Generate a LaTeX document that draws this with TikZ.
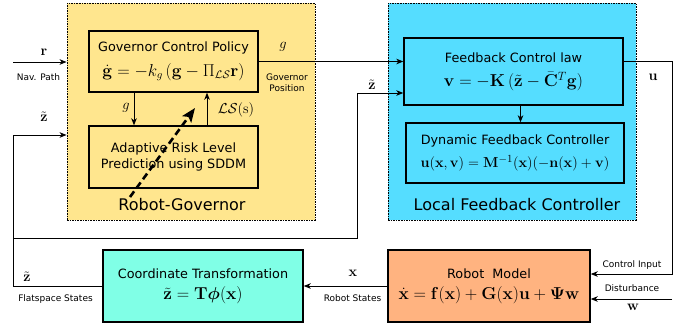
\documentclass[tikz,border=0pt]{standalone}
\usepackage{amsmath,amssymb}
\usepackage{bm}
\usepackage[no-math]{fontspec}
\setmainfont{DejaVu Sans}
\usepackage{tikz}
\usepackage{xcolor}
\usetikzlibrary{arrows.meta}

\definecolor{govyellow}{HTML}{FFE68E}
\definecolor{ctrlblue}{HTML}{55DDFF}
\definecolor{transgreen}{HTML}{80FFE6}
\definecolor{modelorange}{HTML}{FFB380}

\tikzset{
  group/.style={draw, line width=0.8pt, dash pattern=on 1.6pt off 1pt, inner sep=0pt},
  block/.style={draw, line width=1.4pt, inner sep=0pt, align=center,
    font=\fontsize{12.8}{15.4}\selectfont},
  title/.style={font=\fontsize{16}{19}\selectfont},
  note/.style={font=\fontsize{9}{11}\selectfont, align=center},
  sig/.style={font=\fontsize{15}{18}\selectfont},
  wire/.style={line width=1pt, -{Stealth[length=7pt,width=5.5pt,inset=2pt]}},
  riskarrow/.style={line width=2.6pt, dash pattern=on 7pt off 4pt,
    -{Stealth[length=14pt,width=11pt,inset=3pt]}}
}

% equation line inside a block, at its own size
\newcommand{\eqn}[2]{{\fontsize{#1}{#1}\selectfont$#2$}}

\begin{document}
\begin{tikzpicture}[x=1pt, y=-1pt]
  \useasboundingbox (0,0) rectangle (692,330);

  % the two controller layers
  \node[group, fill=govyellow, minimum width=248pt, minimum height=217pt] (gov) at (191,111.5) {};
  \node[group, fill=ctrlblue, minimum width=248pt, minimum height=217pt] (lfc) at (512,111.5) {};
  \node[title] (govtitle) at (182,205) {Robot-Governor};
  \node[title] (lfctitle) at (517,205) {Local Feedback Controller};

  % blocks
  \node[block, minimum width=169pt, minimum height=61pt] (gcp) at (173.5,61.5)
    {Governor Control Policy\\[8pt]
     \eqn{16.3}{\dot{\mathbf g} = -k_g\,(\mathbf g - \Pi_{\mathcal{LS}}\mathbf r)}};
  \node[block, minimum width=169pt, minimum height=62pt] (arl) at (173.5,157)
    {Adaptive Risk Level\\Prediction using SDDM};
  \node[block, minimum width=219pt, minimum height=67pt] (fcl) at (513.5,71.5)
    {Feedback Control law\\[9pt]
     \eqn{17.8}{\mathbf v = -\mathbf K\,(\tilde{\mathbf z} - \bar{\mathbf C}^T\mathbf g)}};
  \node[block, minimum width=218pt, minimum height=60pt] (dfc) at (515,153)
    {Dynamic Feedback Controller\\[7pt]
     \eqn{15.8}{\mathbf u(\mathbf x,\mathbf v) = \mathbf M^{-1}(\mathbf x)(-\mathbf n(\mathbf x)+\mathbf v)}};
  \node[block, fill=modelorange, minimum width=202pt, minimum height=72pt] (rm) at (489,286)
    {Robot\ \ Model\\[6pt]
     \eqn{17.4}{\dot{\mathbf x} = \mathbf f(\mathbf x) + \mathbf G(\mathbf x)\mathbf u + \mathbf\Psi\mathbf w}};
  \node[block, fill=transgreen, minimum width=200pt, minimum height=72pt] (ct) at (203,286)
    {Coordinate Transformation\\[6pt]
     \eqn{18}{\tilde{\mathbf z} = \mathbf T\bm\phi(\mathbf x)}};

  % loose ends and corners
  \coordinate (rin) at (13,62);
  \coordinate (zleft) at (13,135);
  \coordinate (zsplit) at (13,238);
  \coordinate (zfcl) at (357,93);
  \coordinate (ucorner) at (672,274);
  \coordinate (win) at (672,299);
  \coordinate (riskfrom) at (130,197);
  \coordinate (riskto) at (195,108);

  % governor
  \draw[wire] (rin) -- (rin -| gov.west);
  \draw[wire] (gcp.east) -- (gcp.east -| fcl.west);
  \draw[wire] ([xshift=-39.5pt]gcp.south) -- ([xshift=-39.5pt]arl.north);
  \draw[wire] ([xshift=33.5pt]arl.north) -- ([xshift=33.5pt]gcp.south);
  \draw[riskarrow] (riskfrom) -- (riskto);

  % feedback controller
  \draw[wire] ([xshift=7pt]fcl.south) -- ([xshift=7pt]fcl.south |- dfc.north);
  \draw[wire] (fcl.east |- gcp.east) -- (ucorner |- gcp.east) -- (ucorner) -- (ucorner -| rm.east);
  \draw[wire] (win) -- (win -| rm.east);

  % plant and flat output feedback
  \draw[wire] (rm.west) -- (ct.east);
  \draw[wire] (ct.west) -| (zleft) -- (zleft -| gov.west);
  \draw[wire] (zsplit) -| (zfcl) -- (zfcl -| fcl.west);

  % signal labels
  \node[sig] (lr) at (44,52) {$\mathbf r$};
  \node[note] (lnav) at (38.5,77) {Nav. Path};
  \node[sig] (lz1) at (44,117) {$\tilde{\mathbf z}$};
  \node[sig] (lg) at (283,47) {$g$};
  \node[note] (lgpos) at (287,83) {Governor\\Position};
  \node[sig] (lgin) at (126,108) {$g$};
  \node[sig] (lls) at (236,110) {$\mathcal{LS}(\mathrm s)$};
  \node[sig] (lz2) at (372,85) {$\tilde{\mathbf z}$};
  \node[sig] (lu) at (653,77) {$\mathbf u$};
  \node[note] (lctrl) at (632,265) {Control Input};
  \node[note] (ldist) at (632,288) {Disturbance};
  \node[sig] (lw) at (633,307) {$\mathbf w$};
  \node[sig] (lx) at (353,273) {$\mathbf x$};
  \node[note] (lstates) at (352.5,298) {Robot States};
  \node[sig] (lz3) at (27,277) {$\tilde{\mathbf z}$};
  \node[note] (lflat) at (55.5,299) {Flatspace States};
\end{tikzpicture}
\end{document}
